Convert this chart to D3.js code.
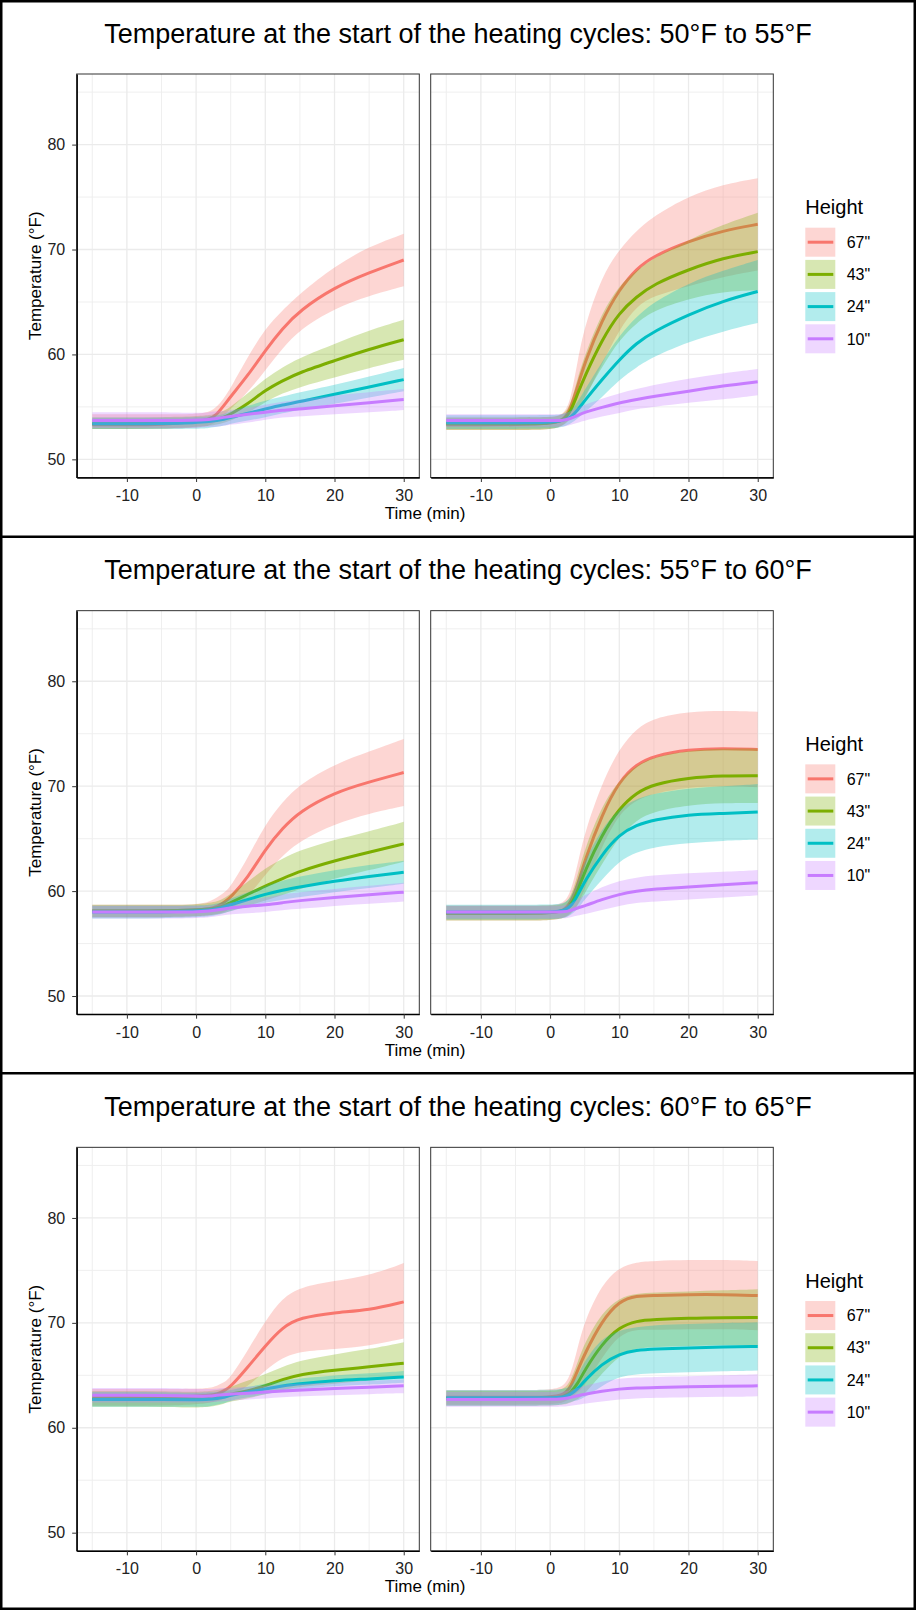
<!DOCTYPE html>
<html>
<head>
<meta charset="utf-8">
<script src="https://cdn.jsdelivr.net/npm/d3@7"></script>
<style>
  body { margin: 0; background: #fff; }
  text { font-family: "Liberation Sans", Arial, sans-serif; }
</style>
</head>
<body>
<div id="chart"></div>
<script>
const minutes = [-15, -10, -5, 0, 2, 3, 4, 5, 7.5, 10, 12.5, 15, 20, 25, 30];
const heights = ['67"', '43"', '24"', '10"'];
const colors = ['#F8766D', '#7CAE00', '#00BFC4', '#C77CFF'];
const rangeTitles = ['50°F to 55°F', '55°F to 60°F', '60°F to 65°F'];
const xTicks = [-10, 0, 10, 20, 30];
const xMinor = [-15, -5, 5, 15, 25];
const yTicks = [50, 60, 70, 80];
const yMinor = [55, 65, 75, 85];

// rows follow heights: 67", 43", 24", 10"
// 50-55, left panel
const mean50a = [
  [53.3, 53.3, 53.3, 53.6, 53.8, 54.3, 55.1, 56.0, 58.0, 60.4, 62.5, 64.2, 66.4, 67.8, 69.0],
  [53.4, 53.4, 53.4, 53.6, 53.7, 53.8, 54.0, 54.3, 55.3, 56.6, 57.5, 58.3, 59.4, 60.5, 61.4],
  [53.4, 53.4, 53.4, 53.5, 53.6, 53.7, 53.8, 54.0, 54.4, 54.8, 55.2, 55.5, 56.2, 56.9, 57.6],
  [53.7, 53.7, 53.7, 53.7, 53.8, 53.9, 54.0, 54.1, 54.3, 54.5, 54.7, 54.8, 55.1, 55.4, 55.7]
];
const lo50a = [
  [52.9, 52.9, 52.9, 53.0, 53.2, 53.6, 54.2, 54.8, 56.4, 58.5, 60.6, 62.4, 64.4, 65.6, 66.5],
  [52.9, 52.9, 52.9, 53.1, 53.2, 53.3, 53.5, 53.7, 54.4, 55.5, 56.3, 56.9, 57.8, 58.7, 59.5],
  [52.9, 52.9, 52.9, 52.9, 53.0, 53.1, 53.2, 53.4, 53.7, 54.0, 54.4, 54.7, 55.3, 55.9, 56.5],
  [53.0, 53.0, 53.0, 53.0, 53.1, 53.1, 53.2, 53.3, 53.5, 53.8, 54.0, 54.1, 54.3, 54.5, 54.7]
];
const hi50a = [
  [54.3, 54.3, 54.3, 54.3, 54.5, 55.0, 55.8, 56.8, 59.8, 62.5, 64.2, 65.8, 68.4, 70.3, 71.5],
  [54.0, 54.0, 54.0, 54.1, 54.2, 54.4, 54.6, 55.0, 56.3, 57.7, 58.8, 59.7, 61.0, 62.3, 63.3],
  [54.0, 54.0, 54.0, 54.0, 54.1, 54.2, 54.3, 54.6, 55.1, 55.6, 56.0, 56.4, 57.1, 57.9, 58.7],
  [54.5, 54.5, 54.5, 54.4, 54.5, 54.6, 54.6, 54.7, 54.9, 55.2, 55.5, 55.7, 56.1, 56.4, 56.7]
];
// 50-55, right panel
const mean50b = [
  [53.3, 53.3, 53.3, 53.4, 53.7, 54.9, 57.0, 59.2, 63.3, 66.2, 68.2, 69.4, 70.8, 71.8, 72.4],
  [53.4, 53.4, 53.4, 53.4, 53.7, 54.6, 56.3, 57.9, 61.4, 64.0, 65.5, 66.7, 68.1, 69.2, 69.8],
  [53.5, 53.5, 53.5, 53.5, 53.7, 54.0, 54.7, 55.6, 57.6, 59.5, 61.1, 62.2, 63.8, 65.1, 66.0],
  [53.7, 53.7, 53.7, 53.7, 53.7, 53.9, 54.2, 54.5, 54.95, 55.4, 55.7, 56.0, 56.5, 57.0, 57.4]
];
const lo50b = [
  [52.8, 52.8, 52.8, 52.8, 53.2, 54.1, 54.5, 55.7, 59.1, 62.4, 64.6, 65.6, 66.5, 67.4, 68.0],
  [52.8, 52.8, 52.8, 52.8, 53.2, 53.9, 54.8, 55.9, 58.8, 61.4, 63.0, 64.2, 65.3, 66.0, 66.1],
  [52.9, 52.9, 52.9, 52.9, 53.1, 53.4, 53.9, 54.5, 55.9, 57.6, 58.8, 59.8, 61.2, 62.2, 63.0],
  [53.1, 53.1, 53.1, 53.1, 53.1, 53.3, 53.5, 53.7, 54.1, 54.4, 54.8, 55.0, 55.4, 55.7, 56.1]
];
const hi50b = [
  [54.0, 54.0, 54.0, 54.0, 54.2, 55.7, 59.5, 62.7, 67.5, 70.0, 71.8, 73.2, 75.1, 76.2, 76.8],
  [54.0, 54.0, 54.0, 54.0, 54.2, 55.3, 57.8, 59.9, 64.0, 66.6, 68.0, 69.2, 70.9, 72.4, 73.5],
  [54.2, 54.2, 54.2, 54.2, 54.3, 54.6, 55.5, 56.6, 59.3, 61.8, 63.6, 65.0, 66.8, 68.0, 69.0],
  [54.3, 54.3, 54.3, 54.3, 54.3, 54.6, 54.9, 55.2, 55.8, 56.3, 56.7, 57.1, 57.7, 58.2, 58.6]
];
// 55-60, left panel
const mean55a = [
  [58.1, 58.1, 58.1, 58.2, 58.3, 58.5, 58.9, 59.4, 61.3, 64.0, 66.0, 67.6, 69.4, 70.4, 71.3],
  [58.1, 58.1, 58.1, 58.2, 58.3, 58.4, 58.6, 58.9, 59.7, 60.5, 61.2, 61.9, 62.9, 63.7, 64.5],
  [58.0, 58.0, 58.0, 58.1, 58.2, 58.3, 58.5, 58.7, 59.2, 59.7, 60.1, 60.4, 60.95, 61.4, 61.8],
  [58.0, 58.0, 58.0, 58.0, 58.1, 58.2, 58.3, 58.4, 58.55, 58.7, 58.9, 59.1, 59.4, 59.65, 59.9]
];
const lo55a = [
  [57.5, 57.5, 57.5, 57.6, 57.7, 57.8, 58.0, 58.3, 59.4, 61.6, 63.4, 64.8, 66.4, 67.4, 68.1],
  [57.5, 57.5, 57.5, 57.6, 57.7, 57.8, 57.9, 58.1, 58.6, 59.1, 59.6, 60.2, 61.2, 62.0, 62.8],
  [57.4, 57.4, 57.4, 57.5, 57.6, 57.7, 57.9, 58.1, 58.5, 58.9, 59.2, 59.4, 59.9, 60.3, 60.7],
  [57.4, 57.4, 57.4, 57.4, 57.5, 57.6, 57.7, 57.8, 57.9, 58.0, 58.2, 58.3, 58.6, 58.8, 59.0]
];
const hi55a = [
  [58.7, 58.7, 58.7, 58.7, 59.0, 59.4, 59.8, 60.4, 63.2, 66.4, 68.5, 70.2, 72.1, 73.3, 74.5],
  [58.7, 58.7, 58.7, 58.7, 58.9, 59.0, 59.3, 59.7, 60.9, 62.2, 63.1, 63.9, 64.9, 65.7, 66.6],
  [58.6, 58.6, 58.6, 58.6, 58.7, 58.8, 59.0, 59.3, 59.9, 60.5, 61.0, 61.4, 62.0, 62.5, 62.9],
  [58.6, 58.6, 58.6, 58.6, 58.6, 58.7, 58.8, 58.9, 59.1, 59.4, 59.7, 59.9, 60.2, 60.5, 60.8]
];
// 55-60, right panel
const mean55b = [
  [57.9, 57.9, 57.9, 57.9, 58.1, 58.9, 60.6, 62.9, 67.3, 70.5, 72.1, 72.9, 73.5, 73.6, 73.5],
  [57.9, 57.9, 57.9, 57.9, 58.1, 58.6, 60.0, 61.9, 65.4, 67.9, 69.4, 70.2, 70.8, 71.0, 71.0],
  [58.0, 58.0, 58.0, 58.0, 58.1, 58.5, 59.6, 60.95, 63.5, 65.4, 66.3, 66.8, 67.3, 67.4, 67.55],
  [58.0, 58.0, 58.0, 58.0, 58.0, 58.15, 58.4, 58.6, 59.2, 59.7, 60.0, 60.2, 60.4, 60.6, 60.8]
];
const lo55b = [
  [57.2, 57.2, 57.2, 57.2, 57.4, 57.9, 58.6, 60.2, 64.3, 67.4, 68.7, 69.3, 69.9, 70.0, 69.9],
  [57.2, 57.2, 57.2, 57.2, 57.4, 57.8, 58.6, 59.8, 62.6, 65.2, 66.8, 67.6, 68.2, 68.4, 68.4],
  [57.3, 57.3, 57.3, 57.3, 57.4, 57.7, 58.3, 59.2, 61.1, 62.9, 63.7, 64.2, 64.6, 64.8, 64.9],
  [57.4, 57.4, 57.4, 57.4, 57.4, 57.5, 57.7, 57.8, 58.2, 58.6, 58.9, 59.0, 59.2, 59.4, 59.6]
];
const hi55b = [
  [58.6, 58.6, 58.6, 58.6, 58.8, 59.9, 62.6, 65.6, 70.3, 73.6, 75.5, 76.5, 77.1, 77.2, 77.1],
  [58.6, 58.6, 58.6, 58.6, 58.7, 59.4, 61.6, 64.0, 68.2, 70.6, 72.0, 72.8, 73.4, 73.6, 73.6],
  [58.7, 58.7, 58.7, 58.7, 58.8, 59.3, 61.0, 62.9, 66.0, 67.9, 68.8, 69.3, 69.8, 70.0, 70.2],
  [58.6, 58.6, 58.6, 58.6, 58.6, 58.8, 59.2, 59.6, 60.4, 61.0, 61.3, 61.5, 61.7, 61.85, 62.0]
];
// 60-65, left panel
const mean60a = [
  [62.9, 62.9, 62.9, 63.0, 63.1, 63.2, 63.5, 63.9, 65.8, 67.8, 69.6, 70.5, 71.0, 71.2, 72.0],
  [62.75, 62.75, 62.75, 62.7, 62.8, 62.9, 63.0, 63.2, 63.5, 64.0, 64.6, 65.1, 65.5, 65.8, 66.15],
  [62.7, 62.7, 62.7, 62.65, 62.7, 62.8, 62.9, 63.1, 63.4, 63.7, 64.0, 64.2, 64.5, 64.65, 64.85],
  [63.1, 63.1, 63.1, 63.0, 63.0, 63.1, 63.15, 63.2, 63.3, 63.4, 63.5, 63.6, 63.75, 63.85, 64.0]
];
const lo60a = [
  [62.1, 62.1, 62.1, 62.2, 62.4, 62.5, 62.7, 63.1, 63.9, 65.5, 66.7, 67.3, 67.5, 67.8, 68.5],
  [62.0, 62.0, 62.0, 61.9, 62.0, 62.1, 62.3, 62.5, 62.8, 63.2, 63.6, 63.9, 64.2, 64.5, 64.8],
  [62.0, 62.0, 62.0, 62.0, 62.0, 62.2, 62.3, 62.6, 62.9, 63.2, 63.5, 63.7, 64.0, 64.1, 64.3],
  [62.4, 62.4, 62.4, 62.4, 62.4, 62.5, 62.5, 62.6, 62.7, 62.8, 62.9, 63.0, 63.1, 63.2, 63.3]
];
const hi60a = [
  [63.7, 63.7, 63.7, 63.7, 63.8, 64.0, 64.3, 64.8, 67.4, 70.2, 72.4, 73.4, 74.0, 74.5, 75.7],
  [63.5, 63.5, 63.5, 63.4, 63.5, 63.6, 63.7, 63.9, 64.5, 65.1, 65.8, 66.4, 67.0, 67.5, 68.15],
  [63.4, 63.4, 63.4, 63.3, 63.4, 63.4, 63.5, 63.6, 63.9, 64.2, 64.5, 64.7, 65.0, 65.2, 65.4],
  [63.8, 63.8, 63.8, 63.7, 63.7, 63.7, 63.8, 63.8, 63.9, 64.0, 64.1, 64.2, 64.35, 64.5, 64.6]
];
// 60-65, right panel
const mean60b = [
  [62.9, 62.9, 62.9, 62.9, 63.1, 63.9, 65.5, 67.05, 70.2, 72.1, 72.6, 72.6, 72.7, 72.7, 72.6],
  [62.8, 62.8, 62.8, 62.8, 62.9, 63.4, 64.2, 65.5, 68.0, 69.6, 70.2, 70.3, 70.45, 70.5, 70.5],
  [62.85, 62.85, 62.85, 62.85, 62.9, 63.2, 63.7, 64.5, 66.1, 67.05, 67.4, 67.5, 67.6, 67.7, 67.75],
  [62.7, 62.7, 62.7, 62.7, 62.75, 62.9, 63.05, 63.2, 63.5, 63.7, 63.8, 63.85, 63.9, 63.95, 64.0]
];
const lo60b = [
  [62.2, 62.2, 62.2, 62.2, 62.4, 62.8, 63.4, 64.0, 66.7, 68.9, 69.4, 69.3, 69.4, 69.4, 69.3],
  [62.1, 62.1, 62.1, 62.1, 62.2, 62.4, 62.7, 63.2, 65.2, 66.9, 67.6, 67.7, 67.8, 67.9, 67.8],
  [62.1, 62.1, 62.1, 62.1, 62.2, 62.5, 62.6, 62.9, 64.0, 64.9, 65.1, 65.2, 65.3, 65.4, 65.45],
  [62.0, 62.0, 62.0, 62.0, 62.0, 62.1, 62.2, 62.3, 62.5, 62.7, 62.8, 62.85, 62.9, 62.95, 63.0]
];
const hi60b = [
  [63.6, 63.6, 63.6, 63.6, 63.9, 65.1, 67.7, 70.2, 73.7, 75.3, 75.8, 75.9, 76.0, 76.0, 75.9],
  [63.5, 63.5, 63.5, 63.5, 63.6, 64.5, 66.3, 68.1, 71.0, 72.4, 72.8, 72.9, 73.0, 73.1, 73.2],
  [63.6, 63.6, 63.6, 63.6, 63.7, 63.9, 65.0, 66.4, 68.6, 69.3, 69.6, 69.8, 69.9, 70.0, 70.05],
  [63.4, 63.4, 63.4, 63.4, 63.45, 63.6, 63.8, 64.0, 64.4, 64.7, 64.8, 64.85, 64.9, 65.0, 65.1]
];

const sections = [
  [{ mean: mean50a, lo: lo50a, hi: hi50a }, { mean: mean50b, lo: lo50b, hi: hi50b }],
  [{ mean: mean55a, lo: lo55a, hi: hi55a }, { mean: mean55b, lo: lo55b, hi: hi55b }],
  [{ mean: mean60a, lo: lo60a, hi: hi60a }, { mean: mean60b, lo: lo60b, hi: hi60b }]
];

const width = 916, height = 1610;
const sectionH = height / 3;
const panelW = 342.6;
const panelLeft = [76.7, 430.7];
const panelTop = 74, panelBottom = 477.5;
const fontFamily = '"Liberation Sans", Arial, sans-serif';

const y = d3.scaleLinear().domain([48.27, 86.73]).range([panelBottom, panelTop]);

const svg = d3.select("#chart").append("svg")
    .attr("width", width)
    .attr("height", height);

svg.append("rect")
    .attr("width", width).attr("height", height)
    .attr("fill", "#fff");

sections.forEach((panels, s) => {
    const g = svg.append("g").attr("transform", `translate(0,${s * sectionH})`);

    g.append("text")
        .attr("x", width / 2)
        .attr("y", 42.5)
        .attr("text-anchor", "middle")
        .attr("font-size", 27)
        .attr("fill", "#000")
        .text(`Temperature at the start of the heating cycles: ${rangeTitles[s]}`);

    panels.forEach((panel, p) => {
        const x = d3.scaleLinear().domain([-17.25, 32.25]).range([panelLeft[p], panelLeft[p] + panelW]);
        const pg = g.append("g");

        // grid
        pg.selectAll(".vminor").data(xMinor).enter().append("line")
            .attr("x1", d => x(d)).attr("x2", d => x(d))
            .attr("y1", panelTop).attr("y2", panelBottom)
            .attr("stroke", "#ededed").attr("stroke-width", 0.9);
        pg.selectAll(".hminor").data(yMinor).enter().append("line")
            .attr("y1", d => y(d)).attr("y2", d => y(d))
            .attr("x1", x.range()[0]).attr("x2", x.range()[1])
            .attr("stroke", "#ededed").attr("stroke-width", 0.9);
        pg.selectAll(".vmajor").data(xTicks).enter().append("line")
            .attr("x1", d => x(d)).attr("x2", d => x(d))
            .attr("y1", panelTop).attr("y2", panelBottom)
            .attr("stroke", "#ebebeb").attr("stroke-width", 1.3);
        pg.selectAll(".hmajor").data(yTicks).enter().append("line")
            .attr("y1", d => y(d)).attr("y2", d => y(d))
            .attr("x1", x.range()[0]).attr("x2", x.range()[1])
            .attr("stroke", "#ebebeb").attr("stroke-width", 1.3);

        const area = d3.area()
            .x(d => x(d.t)).y0(d => y(d.lo)).y1(d => y(d.hi))
            .curve(d3.curveBasis);
        const line = d3.line()
            .x(d => x(d.t)).y(d => y(d.v))
            .curve(d3.curveBasis);

        heights.forEach((h, i) => {
            const pts = minutes.map((t, k) => ({
                t, v: panel.mean[i][k], lo: panel.lo[i][k], hi: panel.hi[i][k]
            }));
            pg.append("path").datum(pts)
                .attr("d", area)
                .attr("fill", colors[i])
                .attr("fill-opacity", 0.3);
            pg.append("path").datum(pts)
                .attr("d", line)
                .attr("fill", "none")
                .attr("stroke", colors[i])
                .attr("stroke-width", 3);
        });

        pg.append("rect")
            .attr("x", x.range()[0]).attr("y", panelTop)
            .attr("width", panelW).attr("height", panelBottom - panelTop)
            .attr("fill", "none").attr("stroke", "#333").attr("stroke-width", 1);

        const xAxis = pg.append("g")
            .attr("transform", `translate(0,${panelBottom})`)
            .call(d3.axisBottom(x).tickValues(xTicks).tickFormat(d => String(d))
                .tickSize(4.5).tickSizeOuter(0).tickPadding(7.5));
        xAxis.select(".domain").attr("stroke", "#000").attr("stroke-width", 1.4);
        xAxis.selectAll(".tick line").attr("stroke", "#333");
        xAxis.selectAll("text")
            .attr("font-size", 16).attr("fill", "#222")
            .attr("font-family", fontFamily);

        if (p === 0) {
            const yAxis = pg.append("g")
                .attr("transform", `translate(${panelLeft[0]},0)`)
                .call(d3.axisLeft(y).tickValues(yTicks).tickFormat(d => String(d))
                    .tickSize(4.5).tickSizeOuter(0).tickPadding(7));
            yAxis.select(".domain").attr("stroke", "#000").attr("stroke-width", 1.4);
            yAxis.selectAll(".tick line").attr("stroke", "#333");
            yAxis.selectAll("text")
                .attr("font-size", 16).attr("fill", "#222")
                .attr("font-family", fontFamily);
        }
    });

    g.append("text")
        .attr("x", (panelLeft[0] + panelLeft[1] + panelW) / 2)
        .attr("y", 519)
        .attr("text-anchor", "middle")
        .attr("font-size", 17)
        .text("Time (min)");

    g.append("text")
        .attr("transform", `translate(40.5,${(panelTop + panelBottom) / 2}) rotate(-90)`)
        .attr("text-anchor", "middle")
        .attr("font-size", 17)
        .text("Temperature (°F)");

    // legend
    const legend = g.append("g").attr("transform", "translate(805.3,0)");
    legend.append("text")
        .attr("x", 0).attr("y", 214.3)
        .attr("font-size", 20)
        .text("Height");

    const keys = legend.selectAll(".key")
        .data(heights)
        .enter().append("g")
        .attr("transform", (d, i) => `translate(0,${227.7 + i * 32.2})`);
    keys.append("rect")
        .attr("width", 30).attr("height", 29)
        .attr("fill", (d, i) => colors[i]).attr("fill-opacity", 0.3);
    keys.append("line")
        .attr("x1", 2.4).attr("x2", 28)
        .attr("y1", 14.5).attr("y2", 14.5)
        .attr("stroke", (d, i) => colors[i]).attr("stroke-width", 3);
    keys.append("text")
        .attr("x", 41.4).attr("y", 14.5).attr("dy", "0.36em")
        .attr("font-size", 16)
        .text(d => d);
});

// section frames
svg.append("rect")
    .attr("x", 1.25).attr("y", 1.25)
    .attr("width", width - 2.5).attr("height", height - 2.5)
    .attr("fill", "none").attr("stroke", "#000").attr("stroke-width", 2.5);
[1, 2].forEach(i => {
    svg.append("line")
        .attr("x1", 0).attr("x2", width)
        .attr("y1", i * sectionH).attr("y2", i * sectionH)
        .attr("stroke", "#000").attr("stroke-width", 2.5);
});
</script>
</body>
</html>
